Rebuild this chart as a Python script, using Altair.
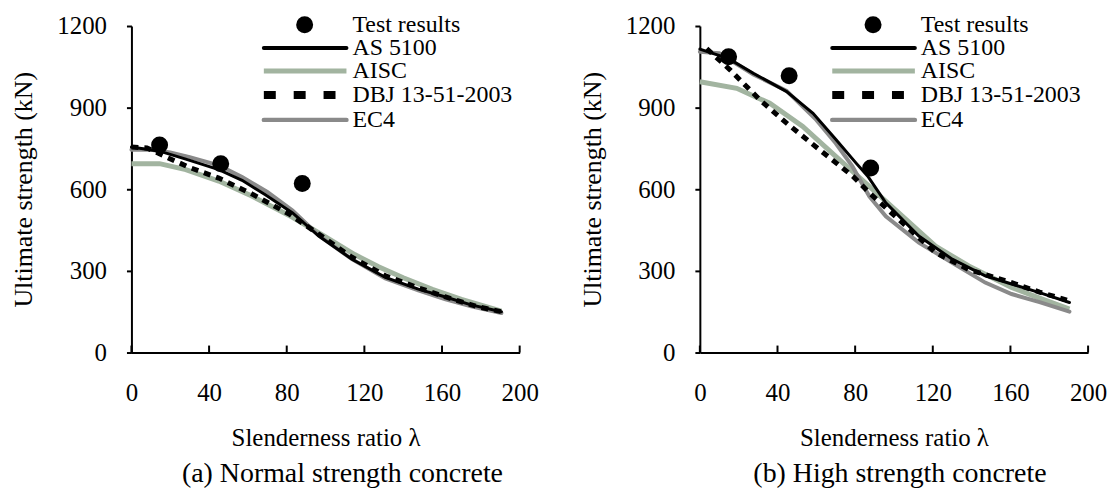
import altair as alt
import pandas as pd

FONT = "Liberation Serif"
PLOT_W = 390
PLOT_H = 328

# ---------------- data ----------------
x_ticks = [0, 40, 80, 120, 160, 200]
y_ticks = [0, 300, 600, 900, 1200]
series_names = ["AISC", "EC4", "AS 5100", "DBJ 13-51-2003"]
legend_order = ["Test results", "AS 5100", "AISC", "DBJ 13-51-2003", "EC4"]

# (a) Normal strength concrete
nsc_test_lam = [14.5, 46, 88]
nsc_test_val = [763, 694, 621]
nsc_as_lam = [0, 14.5, 28, 45, 57, 69, 83, 96.5, 113.6, 130.8, 147.8, 161.4, 175, 190.6]
nsc_as_val = [755, 740, 711, 672, 633, 580, 513, 428, 343, 276, 233, 205, 175, 150]
nsc_aisc_lam = [0, 14.5, 28, 45, 62, 83, 100, 115, 127.3, 140, 155, 170, 190.6]
nsc_aisc_val = [694, 694, 672, 630, 575, 497, 425, 360, 315, 275, 232, 195, 152]
nsc_dbj_lam = [0, 8, 19, 30, 45, 62, 81, 96.5, 113.6, 130.8, 147.8, 161.4, 178.6, 190.6]
nsc_dbj_val = [755, 752, 715, 680, 641, 583, 510, 435, 350, 282, 238, 205, 168, 150]
nsc_ec4_lam = [0, 10, 20, 30, 45, 57, 70, 83, 96.5, 113.6, 130.8, 147.8, 161.4, 175, 190.6]
nsc_ec4_val = [745, 745, 735, 718, 688, 645, 590, 522, 430, 343, 272, 228, 196, 170, 145]

# (b) High strength concrete
hsc_test_lam = [14.8, 46, 88]
hsc_test_val = [1087, 1017, 678]
hsc_as_lam = [0, 14.8, 27.6, 44.7, 58.3, 70.2, 80.5, 86.5, 95.8, 112.8, 130, 147, 160.6, 175, 190.4]
hsc_as_val = [1115, 1080, 1026, 959, 879, 782, 696, 648, 550, 428, 343, 282, 252, 220, 184]
hsc_aisc_lam = [0, 19, 36, 53, 70, 87.3, 104.3, 121.4, 138.5, 160.6, 175, 190.4]
hsc_aisc_val = [995, 971, 916, 831, 721, 611, 501, 391, 318, 239, 200, 160]
hsc_dbj_lam = [3.5, 15.7, 31, 44.7, 61.7, 78.8, 87.3, 104.3, 121.4, 138.5, 160.6, 175, 190.4]
hsc_dbj_val = [1117, 1038, 928, 843, 745, 648, 587, 477, 367, 305, 257, 222, 190]
hsc_ec4_lam = [0, 10, 27.6, 44.7, 60, 70, 78.6, 87.3, 95.8, 112.8, 130, 147, 160.6, 175, 190.4]
hsc_ec4_val = [1105, 1100, 1022, 962, 855, 769, 684, 574, 501, 404, 330, 257, 215, 185, 150]

# ---------------- styles ----------------
line_style = {
    "AS 5100": dict(color="#000000", strokeWidth=3, strokeCap="round"),
    "AISC": dict(color="#a2b4a0", strokeWidth=5, strokeCap="butt"),
    "DBJ 13-51-2003": dict(color="#000000", strokeWidth=5, strokeDash=[7, 6], strokeCap="butt"),
    "EC4": dict(color="#8a8a8a", strokeWidth=4, strokeCap="round"),
}
legend_style = {
    "AS 5100": dict(color="#000000", strokeWidth=4, strokeCap="round"),
    "AISC": dict(color="#a2b4a0", strokeWidth=5, strokeCap="butt"),
    "DBJ 13-51-2003": dict(color="#000000", strokeWidth=8, strokeDash=[12, 18], strokeCap="butt"),
    "EC4": dict(color="#8a8a8a", strokeWidth=4.5, strokeCap="round"),
}
legend_rows_y = [-1.3, 22, 45.3, 69.3, 94.3]

xscale = alt.Scale(domain=[0, 200], nice=False, zero=False)
yscale = alt.Scale(domain=[0, 1200], nice=False)

xaxis = alt.Axis(values=x_ticks, format="d", ticks=False, tickSize=0, labelPadding=28,
                 title="Slenderness ratio λ", titlePadding=20, grid=False,
                 domainColor="black", domainWidth=2, labelFont=FONT, titleFont=FONT,
                 labelFontSize=25, titleFontSize=25, titleFontWeight="normal",
                 labelColor="black", titleColor="black", labelFlush=False)
yaxis = alt.Axis(values=y_ticks, format="d", tickSize=5, tickWidth=2, tickColor="black",
                 labelPadding=20, title="Ultimate strength (kN)", titlePadding=20, grid=False,
                 domainColor="black", domainWidth=2, labelFont=FONT, titleFont=FONT,
                 labelFontSize=25, titleFontSize=26, titleFontWeight="normal",
                 labelColor="black", titleColor="black", labelFlush=False)


def panel(curves, test_lam, test_val, caption, dx):
    layers = []
    one = pd.DataFrame({"k": [0]})
    for name in series_names:
        lam, val = curves[name]
        df = pd.DataFrame({"lam": lam, "strength": val, "series": name})
        layers.append(
            alt.Chart(df).mark_line(**line_style[name]).encode(
                x=alt.X("lam:Q", scale=xscale, axis=xaxis),
                y=alt.Y("strength:Q", scale=yscale, axis=yaxis),
            )
        )
    tdf = pd.DataFrame({"lam": test_lam, "strength": test_val})
    layers.append(
        alt.Chart(tdf).mark_circle(size=290, color="black", opacity=1).encode(
            x=alt.X("lam:Q", scale=xscale, axis=xaxis),
            y=alt.Y("strength:Q", scale=yscale, axis=yaxis),
        )
    )
    # inward x ticks
    tk = pd.DataFrame({"lam": x_ticks})
    layers.append(
        alt.Chart(tk).mark_rule(color="black", strokeWidth=2).encode(
            x=alt.X("lam:Q", scale=xscale, axis=xaxis),
            y=alt.value(PLOT_H), y2=alt.value(PLOT_H - 7),
        )
    )
    # legend
    for label, ly in zip(legend_order, legend_rows_y):
        if label == "Test results":
            layers.append(alt.Chart(one).mark_circle(size=290, color="black", opacity=1).encode(
                x=alt.value(174), y=alt.value(ly)))
        else:
            layers.append(alt.Chart(one).mark_rule(**legend_style[label]).encode(
                x=alt.value(133), x2=alt.value(216), y=alt.value(ly)))
        layers.append(alt.Chart(one).mark_text(align="left", baseline="middle", font=FONT,
                                               fontSize=24, color="black").encode(
            x=alt.value(222), y=alt.value(ly), text=alt.value(label)))
    return alt.layer(*layers).properties(
        width=PLOT_W, height=PLOT_H,
        title=alt.TitleParams(caption, orient="bottom", font=FONT, fontSize=28,
                              fontWeight="normal", color="black", offset=10, dx=dx),
    )


left = panel({
    "AS 5100": (nsc_as_lam, nsc_as_val),
    "AISC": (nsc_aisc_lam, nsc_aisc_val),
    "DBJ 13-51-2003": (nsc_dbj_lam, nsc_dbj_val),
    "EC4": (nsc_ec4_lam, nsc_ec4_val),
}, nsc_test_lam, nsc_test_val, "(a) Normal strength concrete", 17)

right = panel({
    "AS 5100": (hsc_as_lam, hsc_as_val),
    "AISC": (hsc_aisc_lam, hsc_aisc_val),
    "DBJ 13-51-2003": (hsc_dbj_lam, hsc_dbj_val),
    "EC4": (hsc_ec4_lam, hsc_ec4_val),
}, hsc_test_lam, hsc_test_val, "(b) High strength concrete", 6)

chart = alt.hconcat(left, right, spacing=41).configure(
    font=FONT,
    padding={"left": 3, "top": 3, "right": 0, "bottom": 0},
    background="white",
).configure_axis(
    labelFont=FONT, titleFont=FONT,
).configure_text(
    font=FONT,
).configure_title(
    font=FONT,
).configure_view(stroke=None)

chart.save("out.html", embed_options={"renderer": "svg", "actions": False})
